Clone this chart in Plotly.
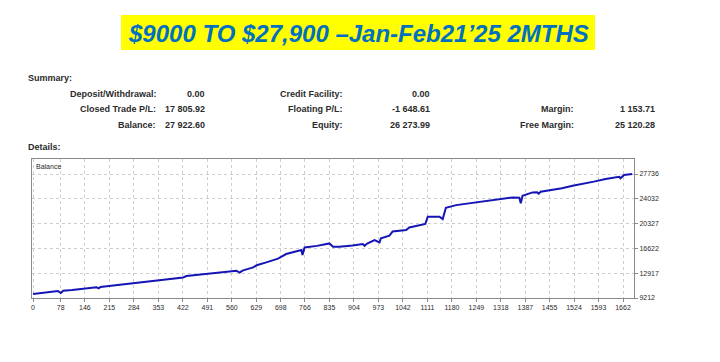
import plotly.graph_objects as go

# ---- data ----
trade_idx = [0, 20, 40, 57, 70, 78, 85, 110, 140, 179, 185, 190, 220, 263, 300, 357, 400, 423, 432, 470,
             507, 540, 573, 582, 590, 620, 630, 657, 690, 713, 740, 756, 759, 765, 800, 835, 845, 863, 900,
             929, 934, 940, 962, 976, 980, 1004, 1013, 1051, 1060, 1088, 1105, 1112, 1145, 1154, 1161, 1163,
             1192, 1250, 1300, 1332, 1351, 1370, 1374, 1379, 1407, 1420, 1425, 1430, 1463, 1490, 1520, 1557,
             1580, 1613, 1651, 1655, 1665, 1688]
balance = [9800, 9950, 10050, 10200, 10250, 9950, 10300, 10400, 10550, 10800, 10650, 10850, 11050, 11300,
           11500, 11800, 12100, 12290, 12500, 12700, 12890, 13100, 13290, 13000, 13300, 13780, 14100, 14530,
           15100, 15780, 16100, 16380, 15640, 16770, 17000, 17370, 16870, 16880, 17050, 17280, 17000, 17300,
           17880, 17520, 18120, 18520, 19160, 19370, 19760, 20010, 20270, 21360, 21360, 21010, 22200, 22700,
           23090, 23500, 23850, 24080, 24240, 24200, 23350, 24500, 24990, 25000, 24800, 25100, 25350, 25600,
           25990, 26330, 26600, 26990, 27330, 27100, 27590, 27740]

x_ticks = [0, 78, 146, 215, 284, 353, 422, 491, 560, 629, 698, 766, 835, 904, 973, 1042, 1111, 1180,
           1249, 1318, 1387, 1455, 1524, 1593, 1662]
y_ticks = [9212, 12917, 16622, 20327, 24032, 27736]

title_text = "$9000 TO $27,900 \u2013Jan-Feb21\u201925 2MTHS"
summary_rows = [
    [("Deposit/Withdrawal:", "0.00"), ("Credit Facility:", "0.00"), None],
    [("Closed Trade P/L:", "17 805.92"), ("Floating P/L:", "-1 648.61"), ("Margin:", "1 153.71")],
    [("Balance:", "27 922.60"), ("Equity:", "26 273.99"), ("Free Margin:", "25 120.28")],
]

# ---- layout geometry (pixels) ----
W, H = 720, 362
PL, PR, PT, PB = 32, 634, 159, 298


def px(x):
    return (x - PL) / (PR - PL)


def py(y):
    return (PB - y) / (PB - PT)


fig = go.Figure()
fig.add_trace(go.Scatter(x=trade_idx, y=balance, mode="lines",
                         line=dict(color="#1515B5", width=2), hoverinfo="skip", showlegend=False))

FONT = "Liberation Sans"
TXT = "#2b2b2b"
GRID = dict(showgrid=True, gridcolor="#CDCDCD", griddash="3px,3px", gridwidth=1,
            showline=True, linecolor="#8A8A8A", linewidth=1, mirror=True,
            ticks="outside", ticklen=3, tickcolor="#8A8A8A",
            tickfont=dict(family=FONT, size=7, color=TXT), zeroline=False, fixedrange=True)

fig.update_layout(
    width=W, height=H,
    margin=dict(l=PL, r=W - PR, t=PT, b=H - PB, pad=0),
    paper_bgcolor="white", plot_bgcolor="white",
    showlegend=False,
    xaxis=dict(range=[-3, 1693], tickvals=x_ticks, ticktext=[str(v) for v in x_ticks], **GRID),
    yaxis=dict(range=[9212, 29980], tickvals=y_ticks, ticktext=[str(v) for v in y_ticks], side="right",
               **GRID),
)

# title highlight
fig.add_shape(type="rect", xref="paper", yref="paper", x0=px(121), x1=px(595), y0=py(50), y1=py(15),
              fillcolor="#FFFF00", line=dict(width=0), layer="below")
fig.add_annotation(xref="paper", yref="paper", x=px(358), y=py(33), showarrow=False,
                   text="<b><i>" + title_text + "</i></b>",
                   font=dict(family=FONT, size=24, color="#0070C0"), xanchor="center", yanchor="middle")


def text_at(x, y, s, anchor="left", size=9, bold=True):
    fig.add_annotation(xref="paper", yref="paper", x=px(x), y=py(y), showarrow=False,
                       text=("<b>" + s + "</b>") if bold else s,
                       font=dict(family=FONT, size=size, color=TXT), xanchor=anchor, yanchor="middle")


text_at(26, 78, "Summary:")
text_at(26, 147, "Details:")
row_y = [94, 109, 125]
label_x = [158, 345, 576]
value_x = [207, 432, 657]
for r, row in enumerate(summary_rows):
    for c, cell in enumerate(row):
        if cell is None:
            continue
        text_at(label_x[c], row_y[r], cell[0], anchor="right")
        text_at(value_x[c], row_y[r], cell[1], anchor="right")

text_at(34, 166, "Balance", size=7, bold=False)

fig.write_html("out.html", config={"displayModeBar": False, "staticPlot": True})

# remove default page margin so the figure sits at the window origin
with open("out.html", "r", encoding="utf-8") as f:
    html = f.read()
html = html.replace("<head>", "<head><style>html,body{margin:0;padding:0;overflow:hidden;}</style>", 1)
with open("out.html", "w", encoding="utf-8") as f:
    f.write(html)
